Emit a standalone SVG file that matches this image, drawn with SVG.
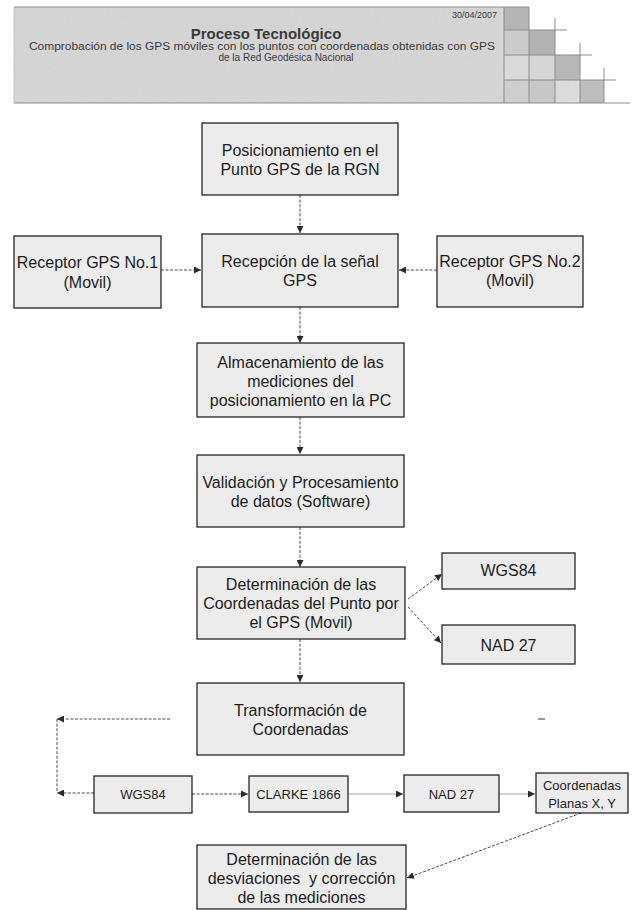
<svg xmlns="http://www.w3.org/2000/svg" width="633" height="910" viewBox="0 0 633 910">
  <style>
    .box { fill: #ececec; stroke: #262626; stroke-width: 1.3; }
    .t { font-family: "Liberation Sans", Arial, sans-serif; font-size: 16px; fill: #1c1c1c; text-anchor: middle; }
    .s { font-size: 13px; }
    .c { fill: none; stroke: #4a4a4a; stroke-width: 1; stroke-dasharray: 3 1.6; }
    .faint { fill: none; stroke: #a8a8a8; stroke-width: 1.2; }
    .hdr { font-family: "Liberation Sans", Arial, sans-serif; fill: #3a3a3a; }
    .grid { stroke: #8c8c8c; stroke-width: 1; fill: none; }
  </style>
  <defs>
    <marker id="arrow" viewBox="0 0 10 10" refX="10" refY="5" markerWidth="7" markerHeight="7" markerUnits="userSpaceOnUse" orient="auto">
      <path d="M0,0 L10,5 L0,10 z" fill="#2a2a2a"/>
    </marker>
    <filter id="grain" x="0" y="0" width="1" height="1">
      <feTurbulence type="fractalNoise" baseFrequency="0.9" numOctaves="2" seed="3" result="n"/>
      <feColorMatrix in="n" type="matrix" values="0 0 0 0 0.5  0 0 0 0 0.5  0 0 0 0 0.5  0 0 0 0.35 0" result="g"/>
      <feComposite in="g" in2="SourceGraphic" operator="in" result="gm"/>
      <feMerge><feMergeNode in="SourceGraphic"/><feMergeNode in="gm"/></feMerge>
    </filter>
  </defs>

  <rect width="633" height="910" fill="#ffffff"/>

  <!-- header banner -->
  <g id="header">
    <g filter="url(#grain)">
      <rect x="14" y="7" width="490" height="96" fill="#d9d9d9"/>
      <rect x="504" y="7" width="25" height="23" fill="#b3b3b3"/>
      <rect x="504" y="30" width="25" height="25" fill="#cfcfcf"/>
      <rect x="529" y="30" width="26" height="25" fill="#b0b0b0"/>
      <rect x="504" y="55" width="25" height="25" fill="#e0e0e0"/>
      <rect x="529" y="55" width="26" height="25" fill="#dcdcdc"/>
      <rect x="555" y="55" width="25" height="25" fill="#b7b7b7"/>
      <rect x="504" y="80" width="25" height="23" fill="#d3d3d3"/>
      <rect x="529" y="80" width="26" height="23" fill="#c9c9c9"/>
      <rect x="555" y="80" width="25" height="23" fill="#e2e2e2"/>
      <rect x="580" y="80" width="24" height="23" fill="#bdbdbd"/>
    </g>
    <path class="grid" d="M14,7 H529 M504,7 V103 M529,7 V103 M555,18 V103 M580,43 V103 M604,68 V103 M504,30 H567 M504,55 H592 M504,80 H616 M14,103 H630"/>
    <path d="M14,103 V7" stroke="#c4c4c4" fill="none"/>
    <text class="hdr" x="497" y="18" font-size="9" text-anchor="end">30/04/2007</text>
    <text class="hdr" x="266" y="39" font-size="15" font-weight="bold" text-anchor="middle" fill="#333">Proceso Tecnológico</text>
    <text class="hdr" x="262" y="50" font-size="10" text-anchor="middle" textLength="466" lengthAdjust="spacingAndGlyphs">Comprobación de los GPS móviles con los puntos con coordenadas obtenidas con GPS</text>
    <text class="hdr" x="286" y="61" font-size="10" text-anchor="middle">de la Red Geodésica Nacional</text>
  </g>

  <!-- connectors -->
  <g id="connectors">
    <path class="c" d="M300,195 V233" marker-end="url(#arrow)"/>
    <path class="c" d="M161,270 H201" marker-end="url(#arrow)"/>
    <path class="c" d="M437,270 H399" marker-end="url(#arrow)"/>
    <path class="c" d="M300,307 V343" marker-end="url(#arrow)"/>
    <path class="c" d="M300,417 V454" marker-end="url(#arrow)"/>
    <path class="c" d="M300,527 V567" marker-end="url(#arrow)"/>
    <path class="c" d="M408,599 L442,574" marker-end="url(#arrow)"/>
    <path class="c" d="M408,607 L441,643" marker-end="url(#arrow)"/>
    <path class="c" d="M300,639 V682" marker-end="url(#arrow)"/>
    <path class="c" d="M170,719 H57" marker-end="url(#arrow)"/>
    <path class="c" d="M57,719 V793"/>
    <path class="c" d="M94,793 H57" marker-end="url(#arrow)"/>
    <path class="c" d="M192,794 H248" marker-end="url(#arrow)"/>
    <path class="faint" d="M348,794 H403" marker-end="url(#arrow)"/>
    <path class="faint" d="M499,794 H535" marker-end="url(#arrow)"/>
    <path class="c" d="M581,813 L407,878" marker-end="url(#arrow)"/>
    <path d="M538,719 H545" stroke="#555" stroke-width="1.2"/>
  </g>

  <g id="n-posicionamiento">
    <rect class="box" x="202" y="123" width="196" height="72"/>
    <text class="t" x="300" y="156">Posicionamiento en el</text>
    <text class="t" x="300" y="175">Punto GPS de la RGN</text>
  </g>

  <g id="n-receptor1">
    <rect class="box" x="14" y="236" width="147" height="72"/>
    <text class="t" x="87.5" y="268">Receptor GPS No.1</text>
    <text class="t" x="87.5" y="288">(Movil)</text>
  </g>

  <g id="n-recepcion">
    <rect class="box" x="202" y="234" width="196" height="73"/>
    <text class="t" x="300" y="267">Recepción de la señal</text>
    <text class="t" x="300" y="286">GPS</text>
  </g>

  <g id="n-receptor2">
    <rect class="box" x="437" y="236" width="146" height="71"/>
    <text class="t" x="510" y="267">Receptor GPS No.2</text>
    <text class="t" x="510" y="286">(Movil)</text>
  </g>

  <g id="n-almacenamiento">
    <rect class="box" x="197" y="343" width="207" height="74"/>
    <text class="t" x="300.5" y="368">Almacenamiento de las</text>
    <text class="t" x="300.5" y="387">mediciones del</text>
    <text class="t" x="300.5" y="406">posicionamiento en la PC</text>
  </g>

  <g id="n-validacion">
    <rect class="box" x="197" y="455" width="207" height="72"/>
    <text class="t" x="300.5" y="488">Validación y Procesamiento</text>
    <text class="t" x="300.5" y="507">de datos (Software)</text>
  </g>

  <g id="n-determinacion">
    <rect class="box" x="197" y="567" width="208" height="72"/>
    <text class="t" x="301" y="590">Determinación de las</text>
    <text class="t" x="301" y="609">Coordenadas del Punto por</text>
    <text class="t" x="301" y="628">el GPS (Movil)</text>
  </g>

  <g id="n-wgs84-a">
    <rect class="box" x="442" y="553" width="133" height="36"/>
    <text class="t" x="508.5" y="576">WGS84</text>
  </g>

  <g id="n-nad27-a">
    <rect class="box" x="442" y="625" width="133" height="39"/>
    <text class="t" x="508.5" y="651">NAD 27</text>
  </g>

  <g id="n-transformacion">
    <rect class="box" x="197" y="683" width="207" height="72"/>
    <text class="t" x="300.5" y="716">Transformación de</text>
    <text class="t" x="300.5" y="735">Coordenadas</text>
  </g>

  <g id="n-wgs84-b">
    <rect class="box" x="94" y="776" width="98" height="37"/>
    <text class="t s" x="143" y="799">WGS84</text>
  </g>

  <g id="n-clarke">
    <rect class="box" x="249" y="776" width="99" height="36"/>
    <text class="t s" x="298.5" y="799">CLARKE 1866</text>
  </g>

  <g id="n-nad27-b">
    <rect class="box" x="404" y="775" width="95" height="37"/>
    <text class="t s" x="451.5" y="799">NAD 27</text>
  </g>

  <g id="n-planas">
    <rect class="box" x="536" y="773" width="92" height="40"/>
    <text class="t s" x="582" y="790">Coordenadas</text>
    <text class="t s" x="582" y="808">Planas X, Y</text>
  </g>

  <g id="n-desviaciones">
    <rect class="box" x="197" y="845" width="209" height="64"/>
    <text class="t" x="301.5" y="865">Determinación de las</text>
    <text class="t" x="301.5" y="884" style="white-space:pre">desviaciones  y corrección</text>
    <text class="t" x="301.5" y="903">de las mediciones</text>
  </g>
</svg>
